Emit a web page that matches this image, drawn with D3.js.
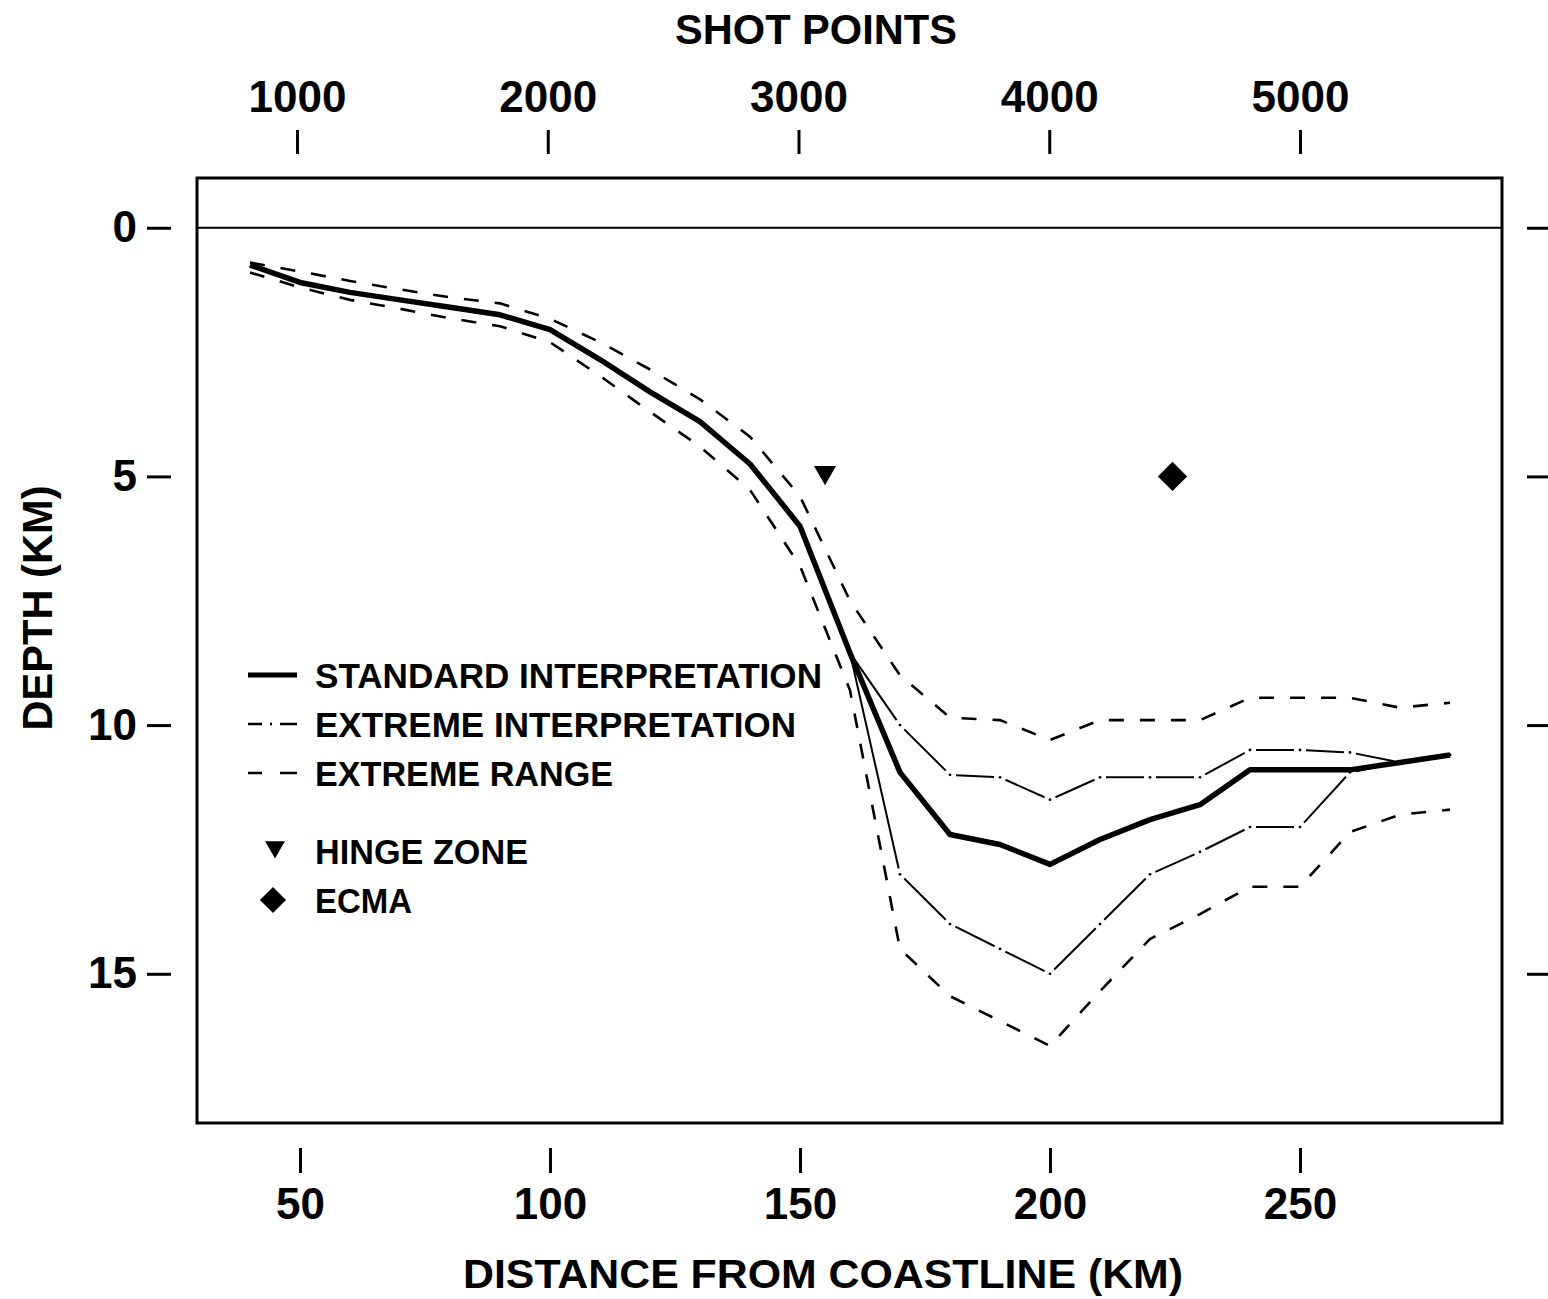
<!DOCTYPE html>
<html>
<head>
<meta charset="utf-8">
<script src="https://cdn.jsdelivr.net/npm/d3@7"></script>
<style>
  body { margin: 0; background: #fff; }
  svg { display: block; }
  text { font-family: "Liberation Sans", Arial, sans-serif; font-weight: bold; fill: #000; }
</style>
</head>
<body>
<script>
// distance from coastline (km) at which each profile was digitised
const kmFull = [40, 50, 60, 70, 80, 90, 100, 110, 120, 130, 140, 150, 160, 170, 180, 190, 200, 210, 220, 230, 240, 250, 260, 270, 280]
const kmBranch = [160, 170, 180, 190, 200, 210, 220, 230, 240, 250, 260, 270, 280]

// depth (km)
const standardDepth = [0.75, 1.1, 1.3, 1.45, 1.6, 1.75, 2.05, 2.65, 3.3, 3.9, 4.75, 6.0, 8.55, 10.95, 12.2, 12.4, 12.8, 12.3, 11.9, 11.6, 10.9, 10.9, 10.9, 10.75, 10.6]
const rangeUpper = [0.7, 0.88, 1.07, 1.24, 1.4, 1.52, 1.83, 2.3, 2.85, 3.45, 4.2, 5.4, 7.5, 9.0, 9.85, 9.9, 10.3, 9.9, 9.9, 9.9, 9.45, 9.45, 9.45, 9.65, 9.55]
const rangeLower = [0.9, 1.2, 1.45, 1.63, 1.82, 1.98, 2.3, 2.98, 3.7, 4.4, 5.27, 6.8, 9.3, 14.5, 15.45, 15.95, 16.45, 15.35, 14.3, 13.8, 13.25, 13.25, 12.15, 11.8, 11.7]
const extremeUpper = [8.55, 10.0, 11.0, 11.05, 11.5, 11.05, 11.05, 11.05, 10.5, 10.5, 10.55, 10.75, 10.6]
const extremeLower = [8.55, 13.0, 14.0, 14.5, 15.0, 14.0, 13.0, 12.55, 12.05, 12.05, 10.95, 10.75, 10.6]

const hingeKm = [155], hingeDepth = [5]
const ecmaKm = [224.5], ecmaDepth = [5]

const kmTicks = [50, 100, 150, 200, 250]
const shotTicks = [1000, 2000, 3000, 4000, 5000]
const depthTicks = [0, 5, 10, 15]

const legendLines = ['STANDARD INTERPRETATION', 'EXTREME INTERPRETATION', 'EXTREME RANGE']
const legendSymbols = ['HINGE ZONE', 'ECMA']

const W = 1548, H = 1299
const frame = {left: 197, right: 1502, top: 178, bottom: 1123}

const svg = d3.select('body').append('svg').attr('width', W).attr('height', H)
svg.append('rect').attr('width', W).attr('height', H).attr('fill', '#fff')

const x = d3.scaleLinear().domain([29.4, 290.4]).range([frame.left, frame.right])
const y = d3.scaleLinear().domain([-1, 18]).range([frame.top, frame.bottom])
// shot point 1000 sits near 49.4 km, 5000 near 250 km
const xShot = d3.scaleLinear().domain([1000, 5000]).range([x(49.4), x(250)])

const pairs = (ks, ds) => ks.map((k, i) => [k, ds[i]])
const line = d3.line().x(d => x(d[0])).y(d => y(d[1]))

// frame + zero line
svg.append('rect')
  .attr('x', frame.left).attr('y', frame.top)
  .attr('width', frame.right - frame.left).attr('height', frame.bottom - frame.top)
  .attr('fill', 'none').attr('stroke', '#000').attr('stroke-width', 3)
svg.append('line')
  .attr('x1', frame.left).attr('x2', frame.right)
  .attr('y1', y(0)).attr('y2', y(0))
  .attr('stroke', '#000').attr('stroke-width', 2)

// axes
const styleAxis = (g, size) => {
  g.select('.domain').remove()
  g.selectAll('.tick line').attr('stroke', '#000').attr('stroke-width', 3)
  g.selectAll('.tick text').attr('font-size', size).attr('fill', '#000')
    .style('font-family', '"Liberation Sans", Arial, sans-serif').style('font-weight', 'bold')
}
svg.append('g').attr('transform', 'translate(0,1148)')
  .call(d3.axisBottom(x).tickValues(kmTicks).tickSize(25).tickPadding(15))
  .call(g => styleAxis(g, 44))
svg.append('g').attr('transform', 'translate(0,154)')
  .call(d3.axisTop(xShot).tickValues(shotTicks).tickFormat(d3.format('d')).tickSize(24).tickPadding(18))
  .call(g => styleAxis(g, 44))
svg.append('g').attr('transform', 'translate(171,0)')
  .call(d3.axisLeft(y).tickValues(depthTicks).tickSize(24).tickPadding(10))
  .call(g => styleAxis(g, 44))
svg.append('g').attr('transform', 'translate(1527,0)')
  .call(d3.axisRight(y).tickValues(depthTicks).tickSize(21).tickFormat(''))
  .call(g => styleAxis(g, 44))

// axis titles
svg.append('text').attr('x', 816).attr('y', 44).attr('text-anchor', 'middle')
  .attr('font-size', 42).attr('textLength', 282).attr('lengthAdjust', 'spacingAndGlyphs')
  .text('SHOT POINTS')
svg.append('text').attr('x', 823).attr('y', 1288).attr('text-anchor', 'middle')
  .attr('font-size', 41).attr('textLength', 720).attr('lengthAdjust', 'spacingAndGlyphs')
  .text('DISTANCE FROM COASTLINE (KM)')
svg.append('text').attr('transform', 'translate(52,608) rotate(-90)').attr('text-anchor', 'middle')
  .attr('font-size', 42).attr('textLength', 245).attr('lengthAdjust', 'spacingAndGlyphs')
  .text('DEPTH (KM)')

// extreme range (dashed)
;[rangeUpper, rangeLower].forEach(ds => {
  svg.append('path').datum(pairs(kmFull, ds)).attr('d', line)
    .attr('fill', 'none').attr('stroke', '#000').attr('stroke-width', 2.6)
    .attr('stroke-dasharray', '15,16')
})

// extreme interpretation: one dash per segment, a dot on every vertex
const dashDot = (g, pts) => {
  d3.pairs(pts).forEach(([a, b]) => {
    const len = Math.hypot(x(b[0]) - x(a[0]), y(b[1]) - y(a[1]))
    g.append('line')
      .attr('x1', x(a[0])).attr('y1', y(a[1])).attr('x2', x(b[0])).attr('y2', y(b[1]))
      .attr('stroke', '#000').attr('stroke-width', 2)
      .attr('stroke-dasharray', `0,6,${Math.max(len - 12, 1)},${len}`)
  })
  g.selectAll('circle.v').data(pts).enter().append('circle')
    .attr('cx', d => x(d[0])).attr('cy', d => y(d[1])).attr('r', 1.4).attr('fill', '#000')
}
const gExt = svg.append('g')
dashDot(gExt, pairs(kmBranch, extremeUpper))
dashDot(gExt, pairs(kmBranch, extremeLower))

// standard interpretation
svg.append('path').datum(pairs(kmFull, standardDepth)).attr('d', line)
  .attr('fill', 'none').attr('stroke', '#000').attr('stroke-width', 5.5)
  .attr('stroke-linejoin', 'round')

// markers
const tri = d3.symbol().type(d3.symbolTriangle).size(210)
const dia = d3.symbol().type(d3.symbolSquare).size(430)
svg.selectAll('path.hinge').data(pairs(hingeKm, hingeDepth)).enter().append('path')
  .attr('d', tri).attr('fill', '#000')
  .attr('transform', d => `translate(${x(d[0])},${y(d[1]) - 4}) rotate(180)`)
svg.selectAll('path.ecma').data(pairs(ecmaKm, ecmaDepth)).enter().append('path')
  .attr('d', dia).attr('fill', '#000')
  .attr('transform', d => `translate(${x(d[0])},${y(d[1])}) rotate(45)`)

// legend
const lg = svg.append('g')
const legW = [507, 481, 298]
const rowY = [675, 724, 773]
legendLines.forEach((t, i) => {
  lg.append('text').attr('x', 315).attr('y', rowY[i] + 13).attr('font-size', 35)
    .attr('textLength', legW[i]).attr('lengthAdjust', 'spacingAndGlyphs').text(t)
})
lg.append('line').attr('x1', 248).attr('x2', 297).attr('y1', 675).attr('y2', 675)
  .attr('stroke', '#000').attr('stroke-width', 5)
lg.append('line').attr('x1', 248).attr('x2', 297).attr('y1', 724).attr('y2', 724)
  .attr('stroke', '#000').attr('stroke-width', 2.5).attr('stroke-dasharray', '14,8,2,8,17')
lg.append('line').attr('x1', 248).attr('x2', 297).attr('y1', 773).attr('y2', 773)
  .attr('stroke', '#000').attr('stroke-width', 2.6).attr('stroke-dasharray', '14,18,17')

const symY = [851, 900], symW = [213, 97]
legendSymbols.forEach((t, i) => {
  lg.append('text').attr('x', 315).attr('y', symY[i] + 13).attr('font-size', 35)
    .attr('textLength', symW[i]).attr('lengthAdjust', 'spacingAndGlyphs').text(t)
})
lg.append('path').attr('d', d3.symbol().type(d3.symbolTriangle).size(170))
  .attr('transform', `translate(275,${symY[0] - 4}) rotate(180)`).attr('fill', '#000')
lg.append('path').attr('d', d3.symbol().type(d3.symbolSquare).size(340))
  .attr('transform', `translate(273,${symY[1]}) rotate(45)`).attr('fill', '#000')
</script>
</body>
</html>
